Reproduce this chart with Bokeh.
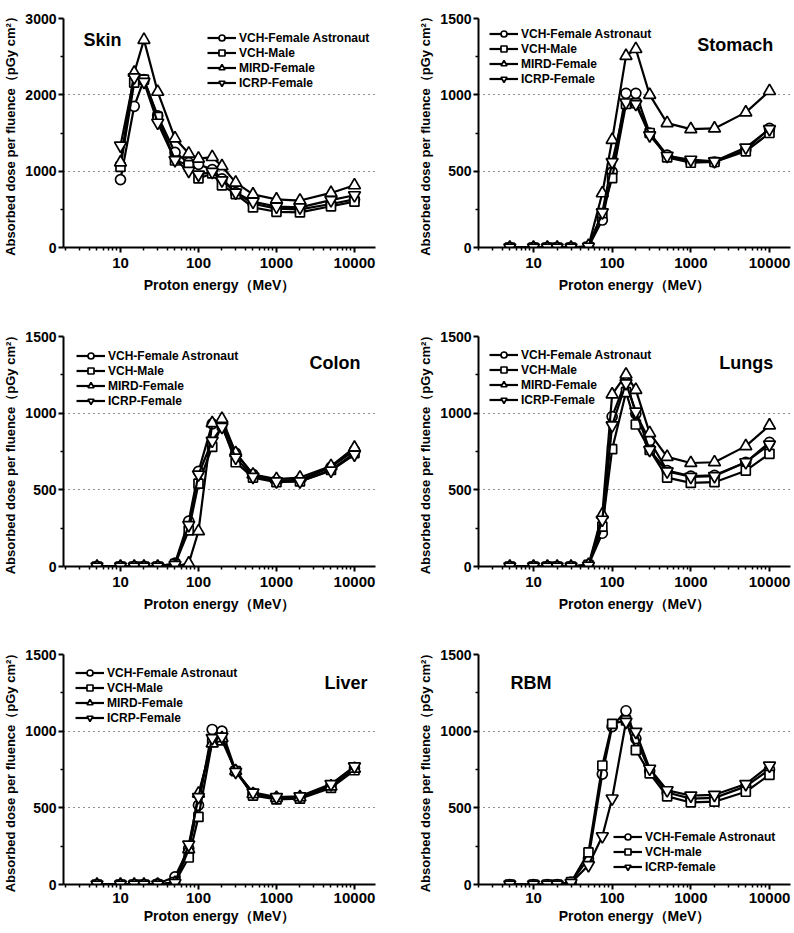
from bokeh.plotting import figure
from bokeh.layouts import column, row
from bokeh.models import Range1d, FixedTicker, PrintfTickFormatter, Label
from bokeh.embed import file_html
from bokeh.resources import INLINE

# ---------------- data ----------------
energy = [5, 10, 15, 20, 30, 50, 75, 100, 150, 200, 300, 500, 1000, 2000, 5000, 10000]
skin_energy = [10, 15, 20, 30, 50, 75, 100, 150, 200, 300, 500, 1000, 2000, 5000, 10000]

skin_vch_female = [890, 1850, 2200, 1725, 1245, 1110, 1090, 1020, 900, 720, 575, 510, 500, 570, 630]
skin_vch_male = [1055, 2160, 2200, 1710, 1140, 1080, 905, 970, 815, 700, 525, 468, 460, 540, 600]
skin_mird = [1115, 2290, 2720, 2040, 1430, 1230, 1165, 1185, 1065, 850, 695, 630, 615, 715, 815]
skin_icrp = [1335, 2230, 2170, 1635, 1145, 1005, 955, 990, 880, 720, 600, 535, 525, 620, 685]

stomach_vch_female = [0, 0, 0, 0, 0, 5, 180, 495, 1010, 1010, 750, 605, 560, 560, 640, 780]
stomach_vch_male = [0, 0, 0, 0, 0, 5, 225, 455, 940, 945, 750, 590, 555, 560, 630, 750]
stomach_mird = [0, 0, 0, 0, 0, 10, 355, 705, 1255, 1300, 1000, 815, 775, 780, 885, 1025]
stomach_icrp = [0, 0, 0, 0, 0, 5, 230, 560, 950, 940, 735, 600, 575, 565, 655, 775]

colon_vch_female = [0, 0, 0, 0, 0, 22, 296, 620, 930, 940, 740, 600, 560, 565, 648, 757]
colon_vch_male = [0, 0, 0, 0, 0, 15, 235, 540, 780, 920, 680, 580, 550, 555, 630, 740]
colon_mird = [0, 0, 0, 0, 0, 0, 20, 230, 935, 963, 740, 600, 570, 580, 655, 775]
colon_icrp = [0, 0, 0, 0, 0, 10, 270, 600, 820, 910, 710, 585, 555, 555, 625, 730]

lungs_vch_female = [0, 0, 0, 0, 0, 10, 217, 978, 1213, 996, 820, 625, 590, 595, 680, 810]
lungs_vch_male = [0, 0, 0, 0, 0, 10, 260, 765, 1137, 926, 760, 580, 545, 550, 625, 735]
lungs_mird = [0, 0, 0, 0, 0, 10, 340, 1122, 1252, 1152, 870, 715, 675, 680, 785, 920]
lungs_icrp = [0, 0, 0, 0, 0, 5, 305, 920, 1195, 1010, 760, 620, 585, 590, 680, 795]

liver_vch_female = [0, 0, 0, 0, 5, 50, 235, 517, 1011, 1000, 740, 595, 565, 570, 645, 760]
liver_vch_male = [0, 0, 0, 0, 0, 15, 176, 441, 930, 940, 740, 580, 555, 560, 630, 745]
liver_mird = [0, 0, 0, 0, 0, 10, 230, 593, 920, 955, 740, 590, 565, 570, 640, 755]
liver_icrp = [0, 0, 0, 0, 0, 10, 260, 570, 955, 965, 735, 600, 570, 575, 655, 770]

rbm_vch_female = [0, 0, 0, 0, 15, 170, 720, 1030, 1133, 952, 740, 600, 560, 565, 640, 750]
rbm_vch_male = [0, 0, 0, 0, 15, 209, 776, 1048, 1070, 876, 725, 575, 535, 540, 605, 715]
rbm_icrp = [0, 0, 0, 0, 10, 126, 315, 561, 1061, 996, 755, 615, 580, 585, 655, 775]

labels4 = ["VCH-Female Astronaut", "VCH-Male", "MIRD-Female", "ICRP-Female"]
labels_rbm = ["VCH-Female Astronaut", "VCH-male", "ICRP-female"]
markers4 = ["circle", "square", "triangle", "inverted_triangle"]
markers_rbm = ["circle", "square", "inverted_triangle"]

x_ticks = [10, 100, 1000, 10000]
y_ticks_skin = [0, 1000, 2000, 3000]
y_minor_skin = [500, 1500, 2500]
y_ticks = [0, 500, 1000, 1500]
y_minor = [250, 750, 1250]

x_label = "Proton energy（MeV）"
y_label = "Absorbed dose per fluence（pGy cm²）"

FONT = "Liberation Sans"
MSIZE = {"circle": 10, "square": 9, "triangle": 12, "inverted_triangle": 12}


def make_panel(col, rowi, name, xs, series, labels, markers, ymax, yt, ymt,
               legend_loc, title_xy, title_align):
    left = col == 0
    width = 398 if left else 394
    height = [326, 318, 284][rowi]
    xr = Range1d(1.86, 18600) if left else Range1d(2.0, 18500)
    top = 18 if rowi == 0 else 10
    bottom = [79, 78, 44][rowi]
    p = figure(width=width, height=height, x_axis_type="log", x_range=xr,
               y_range=Range1d(0, ymax), output_backend="svg", toolbar_location=None,
               min_border_left=63 if left else 80, min_border_right=23 if left else 2,
               min_border_top=top, min_border_bottom=bottom)
    p.outline_line_color = None
    p.background_fill_color = "white"
    p.border_fill_color = "white"

    lo, hi = xr.start, xr.end
    minor = [m * 10 ** k for k in range(0, 5) for m in range(2, 10) if lo <= m * 10 ** k <= hi]
    p.xaxis.ticker = FixedTicker(ticks=x_ticks, minor_ticks=minor)
    p.yaxis.ticker = FixedTicker(ticks=yt, minor_ticks=ymt)
    p.xaxis.formatter = PrintfTickFormatter(format="%d")
    p.yaxis.formatter = PrintfTickFormatter(format="%d")

    p.xgrid.visible = False
    p.ygrid.ticker = FixedTicker(ticks=yt[1:-1])
    p.ygrid.grid_line_color = "#222222"
    p.ygrid.grid_line_dash = "1 4"
    p.ygrid.grid_line_width = 1.2

    for ax in (p.xaxis[0], p.yaxis[0]):
        ax.axis_line_width = 2
        ax.axis_line_color = "black"
        ax.major_tick_line_width = 2
        ax.minor_tick_line_width = 1.5
        ax.major_tick_in = 0
        ax.major_tick_out = 5
        ax.minor_tick_in = 0
        ax.minor_tick_out = 3
        ax.major_label_text_font = FONT
        ax.major_label_text_font_style = "bold"
        ax.major_label_text_color = "black"
        ax.axis_label_text_font = FONT
        ax.axis_label_text_font_style = "bold"
        ax.axis_label_text_color = "black"
    p.xaxis.major_label_text_font_size = "15px"
    p.yaxis.major_label_text_font_size = "14px"
    p.xaxis.axis_label_text_font_size = "14px"
    p.yaxis.axis_label_text_font_size = "13px"
    p.xaxis.axis_label = x_label
    p.yaxis.axis_label = y_label
    p.yaxis.major_label_standoff = 2
    p.yaxis.axis_label_standoff = 4
    if rowi < 2:
        p.xaxis.major_label_standoff = 5
        p.xaxis.axis_label_standoff = 6
    else:
        p.xaxis.major_label_standoff = 3
        p.xaxis.axis_label_standoff = 2

    for ys, lab, mk in zip(series, labels, markers):
        p.line(xs, ys, line_color="black", line_width=2.2, legend_label=lab)
        p.scatter(xs, ys, marker=mk, size=MSIZE[mk], fill_color="white",
                  line_color="black", line_width=1.7, legend_label=lab)

    leg = p.legend[0]
    leg.location = legend_loc
    leg.background_fill_alpha = 0
    leg.border_line_color = None
    leg.label_text_font = FONT
    leg.label_text_font_style = "bold"
    leg.label_text_font_size = "12px"
    leg.label_text_color = "black"
    leg.glyph_width = 29
    leg.glyph_height = 15
    leg.label_height = 15
    leg.spacing = 0
    leg.padding = 0
    leg.margin = 0
    leg.label_standoff = 3

    p.add_layout(Label(x=title_xy[0], y=title_xy[1], text=name, text_font=FONT,
                       text_font_style="bold", text_font_size="18px",
                       text_align=title_align, text_baseline="middle", text_color="black"))
    return p


p1 = make_panel(0, 0, "Skin", skin_energy,
                [skin_vch_female, skin_vch_male, skin_mird, skin_icrp], labels4, markers4,
                3000, y_ticks_skin, y_minor_skin, (144, 157), (3.36, 2716), "left")
p2 = make_panel(1, 0, "Stomach", energy,
                [stomach_vch_female, stomach_vch_male, stomach_mird, stomach_icrp], labels4, markers4,
                1500, y_ticks, y_minor, (11, 161), (11200, 1325), "right")
p3 = make_panel(0, 1, "Colon", energy,
                [colon_vch_female, colon_vch_male, colon_mird, colon_icrp], labels4, markers4,
                1500, y_ticks, y_minor, (13, 158), (11940, 1324), "right")
p4 = make_panel(1, 1, "Lungs", energy,
                [lungs_vch_female, lungs_vch_male, lungs_mird, lungs_icrp], labels4, markers4,
                1500, y_ticks, y_minor, (11, 159), (11200, 1330), "right")
p5 = make_panel(0, 2, "Liver", energy,
                [liver_vch_female, liver_vch_male, liver_mird, liver_icrp], labels4, markers4,
                1500, y_ticks, y_minor, (12, 159), (14700, 1317), "right")
p6 = make_panel(1, 2, "RBM", energy,
                [rbm_vch_female, rbm_vch_male, rbm_icrp], labels_rbm, markers_rbm,
                1500, y_ticks, y_minor, (135, 10), (5.1, 1311), "left")

layout = column(row(p1, p2), row(p3, p4), row(p5, p6))
open("out.html", "w").write(file_html(layout, INLINE))
